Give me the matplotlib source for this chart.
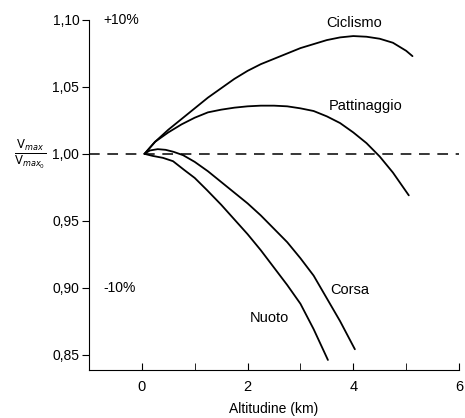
import matplotlib.pyplot as plt

plt.rcParams['font.family'] = ['Liberation Sans', 'DejaVu Sans']

# altitudine (km) / rapporto V_max / V_max0
cic_x = [0.05, 0.25, 0.5, 0.75, 1.0, 1.25, 1.5, 1.75, 2.0, 2.25, 2.5, 2.75, 3.0, 3.25, 3.5, 3.75, 4.0, 4.25, 4.5, 4.75, 5.0, 5.12]
cic_y = [1.000, 1.009, 1.018, 1.026, 1.034, 1.042, 1.049, 1.056, 1.062, 1.067, 1.071, 1.075, 1.079, 1.082, 1.085, 1.087, 1.088, 1.0875, 1.086, 1.083, 1.077, 1.073]

pat_x = [0.05, 0.25, 0.5, 0.75, 1.0, 1.25, 1.5, 1.75, 2.0, 2.25, 2.5, 2.75, 3.0, 3.25, 3.5, 3.75, 4.0, 4.25, 4.5, 4.75, 5.05]
pat_y = [1.000, 1.009, 1.016, 1.022, 1.027, 1.031, 1.033, 1.0345, 1.0355, 1.036, 1.036, 1.0355, 1.034, 1.032, 1.028, 1.023, 1.016, 1.008, 0.998, 0.986, 0.969]

cor_x = [0.05, 0.15, 0.3, 0.45, 0.6, 0.78, 1.0, 1.25, 1.5, 1.75, 2.0, 2.25, 2.5, 2.75, 3.0, 3.25, 3.5, 3.75, 4.03]
cor_y = [1.000, 1.0025, 1.0035, 1.003, 1.0015, 0.999, 0.994, 0.987, 0.979, 0.971, 0.963, 0.954, 0.944, 0.934, 0.922, 0.909, 0.892, 0.875, 0.854]

nuo_x = [0.05, 0.2, 0.4, 0.59, 0.8, 1.0, 1.23, 1.5, 1.75, 2.0, 2.25, 2.5, 2.75, 3.0, 3.25, 3.52]
nuo_y = [1.000, 0.9985, 0.997, 0.9945, 0.988, 0.982, 0.973, 0.962, 0.951, 0.940, 0.928, 0.915, 0.902, 0.888, 0.869, 0.846]

fig = plt.figure(figsize=(4.65, 4.18), dpi=100)
ax = fig.add_axes([89 / 465, 48 / 418, 370 / 465, 350 / 418])

for xs, ys in [(cic_x, cic_y), (pat_x, pat_y), (cor_x, cor_y), (nuo_x, nuo_y)]:
    ax.plot(xs, ys, color='black', lw=1.3, solid_joinstyle='round', solid_capstyle='round')
ax.axhline(1.0, color='black', lw=1.1, dashes=(7, 5))

ax.set_xlim(-1, 6)
ax.set_ylim(0.8385, 1.1)
ax.spines['top'].set_visible(False)
ax.spines['right'].set_visible(False)

ax.set_xticks([0, 2, 4, 6])
ax.set_xticks([-1, 1, 3, 5], minor=True)
ax.set_yticks([0.85, 0.90, 0.95, 1.00, 1.05, 1.10])
ax.set_yticklabels(['0,85', '0,90', '0,95', '1,00', '1,05', '1,10'])
ax.tick_params(axis='x', direction='in', length=5, labelsize=10.5, pad=7)
ax.tick_params(axis='x', which='minor', direction='in', length=5)
ax.tick_params(axis='y', direction='out', length=5, labelsize=10, pad=2)
ax.set_xlabel('Altitudine (km)', fontsize=10, labelpad=6)

ax.text(0.04, 1.10, '+10%', fontsize=10, va='center', ha='left', transform=ax.get_yaxis_transform())
ax.text(0.04, 0.90, '-10%', fontsize=10, va='center', ha='left', transform=ax.get_yaxis_transform())

ax.text(4.02, 1.098, 'Ciclismo', fontsize=10.5, ha='center', va='center')
ax.text(4.23, 1.036, 'Pattinaggio', fontsize=10.5, ha='center', va='center')
ax.text(3.94, 0.8985, 'Corsa', fontsize=10.5, ha='center', va='center')
ax.text(2.42, 0.8776, 'Nuoto', fontsize=10.5, ha='center', va='center')

fig.text(30 / 465, 1 - 154 / 418, r'$\frac{\mathrm{V}_{max}}{\mathrm{V}_{max_0}}$',
         fontsize=12, ha='center', va='center')

fig.savefig('out.png', dpi=100)
